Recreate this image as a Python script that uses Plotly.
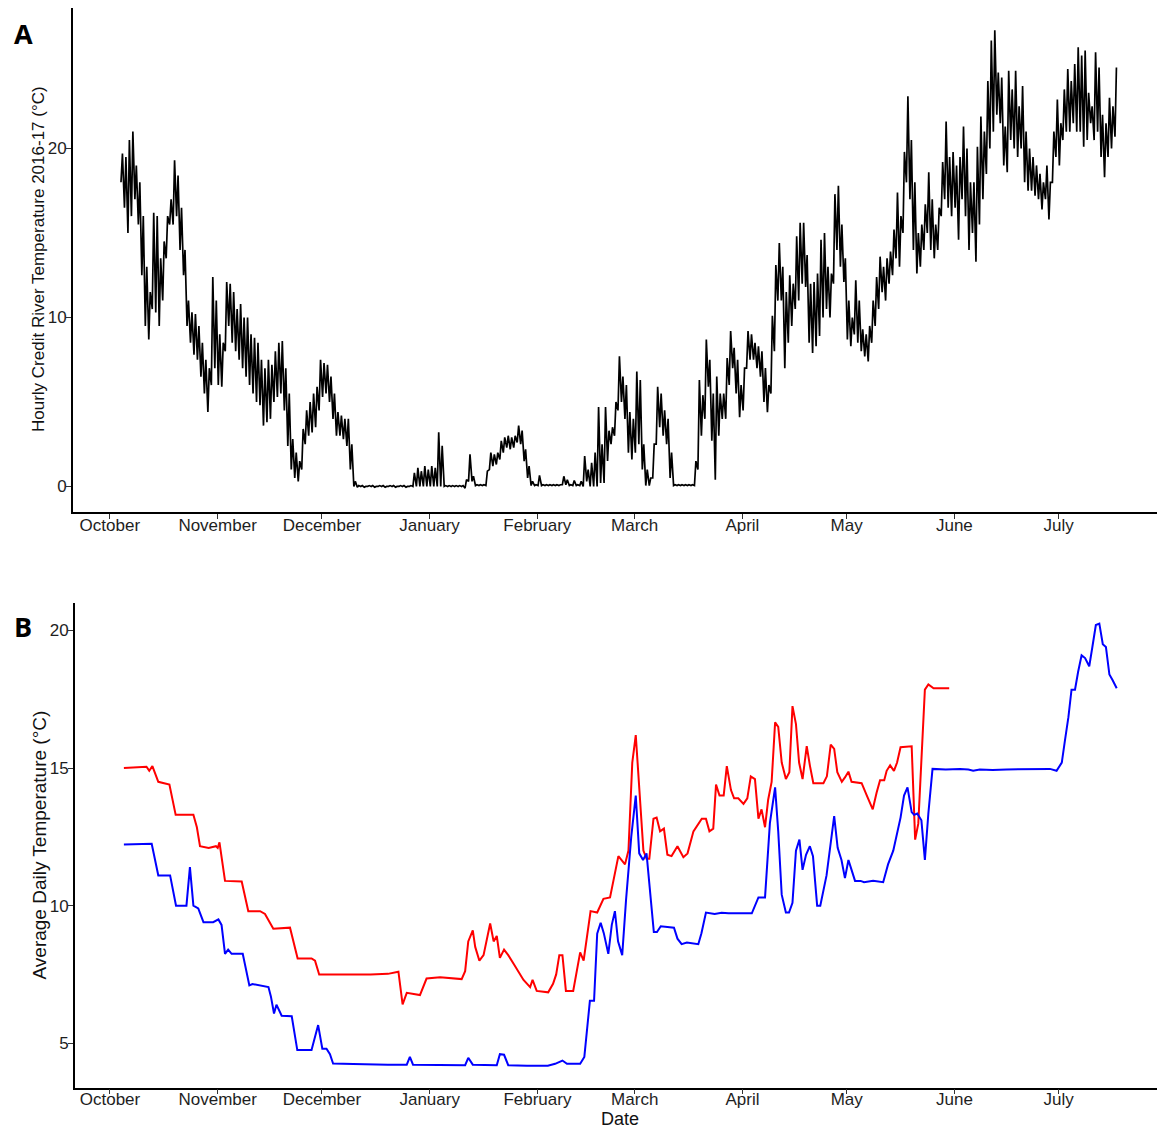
import pandas as pd
import plotly.graph_objects as go

# ---------------- data ----------------
BASE = pd.Timestamp("2016-10-01")          # day offsets below are counted from here
HOURLY_START = pd.Timestamp("2016-10-04")  # first day of the hourly record (panel A)

# Panel A: daily minimum / maximum of the hourly Credit River record (deg C), one entry per day
daily_low = [
    # October 4-31
    18.0, 16.5, 15.0, 16.0, 17.0, 15.5, 12.5, 9.5, 8.7, 10.5, 10.3, 9.5, 11.0, 13.5,
    15.5, 15.5, 16.0, 14.0, 12.5, 9.5, 8.5, 7.8, 7.5, 6.5, 5.5, 4.4, 6.0, 7.0,
    # November
    6.0, 5.9, 8.0, 9.5, 8.5, 8.0, 7.5, 7.0, 6.5, 6.0, 5.5, 5.0, 4.8, 3.6, 3.8,
    4.0, 5.0, 5.3, 5.5, 4.5, 2.4, 1.0, 0.5, 0.3, 1.0, 2.5, 3.0, 3.2, 3.5, 4.5,
    # December
    5.3, 5.5, 5.0, 4.0, 3.0, 3.0, 2.8, 2.4, 1.0, 0.0, -0.05, 0.0, -0.05, 0.0, 0.0, -0.05,
    0.0, 0.0, -0.05, 0.0, 0.0, -0.05, 0.0, 0.0, -0.05, 0.0, 0.0, 0.0, 0.0, 0.0, 0.0,
    # January
    0.0, 0.0, 0.0, 0.0, 0.0, 0.0, 0.0, 0.0, 0.0, 0.0, -0.1, 0.3, 0.3, 0.05, 0.05, 0.05,
    0.05, 1.0, 1.2, 1.3, 1.6, 2.0, 2.3, 2.2, 2.3, 2.6, 2.5, 1.5, 0.5, 0.05, 0.05,
    # February
    0.05, 0.05, 0.05, 0.05, 0.05, 0.05, 0.05, 0.1, 0.1, 0.05, 0.05, 0.05, 0.05, 0.0,
    0.3, 0.0, 0.0, 0.0, 0.2, 0.2, 1.5, 2.5, 3.0, 4.5, 5.0, 4.0, 2.0, 1.6,
    # March
    2.0, 2.5, 1.0, 0.05, 0.05, 0.5, 2.5, 3.5, 3.0, 2.5, 0.5, 0.05, 0.05, 0.05, 0.05, 0.05,
    0.05, 0.05, 1.0, 3.0, 4.0, 5.9, 2.7, 0.4, 3.0, 4.0, 4.0, 6.0, 7.0, 5.5, 4.1,
    # April
    4.5, 7.0, 7.5, 7.5, 7.0, 6.5, 5.0, 4.4, 5.5, 8.0, 11.0, 11.0, 7.0, 8.5, 9.5,
    10.5, 11.0, 12.0, 11.8, 8.5, 7.9, 8.3, 8.9, 10.0, 10.5, 10.0, 12.0, 14.0, 13.0, 12.1,
    # May
    8.7, 8.3, 9.0, 8.5, 8.0, 7.7, 7.4, 8.5, 9.5, 10.5, 11.5, 11.0, 12.0, 12.5, 13.5, 13.0,
    15.0, 18.0, 17.0, 14.0, 12.6, 13.0, 14.0, 15.0, 14.0, 13.5, 14.0, 16.0, 17.0, 16.5, 16.0,
    # June
    16.5, 14.6, 17.0, 16.0, 14.0, 15.0, 13.3, 15.5, 17.0, 18.5, 20.0, 21.0, 22.0, 21.5, 19.0,
    18.6, 20.5, 20.0, 19.5, 20.0, 18.0, 17.5, 17.5, 17.2, 17.0, 16.4, 17.0, 15.8, 18.0, 19.5,
    # July 1-17
    19.0, 20.5, 21.0, 21.0, 21.5, 21.0, 21.0, 20.1, 20.5, 21.5, 20.5, 21.0, 19.5, 18.3,
    19.5, 20.0, 20.7,
]
daily_high = [
    # October 4-31
    19.7, 19.5, 20.5, 21.0, 19.0, 18.0, 16.0, 13.0, 11.5, 16.2, 16.0, 13.5, 14.5, 16.0,
    17.0, 19.3, 18.4, 16.5, 14.0, 11.0, 10.3, 10.2, 9.5, 8.5, 7.5, 7.0, 12.4, 11.0,
    # November
    9.0, 8.5, 12.1, 12.0, 11.5, 10.5, 10.8, 10.0, 10.0, 9.0, 8.8, 8.5, 7.5, 7.0, 7.5,
    7.2, 8.0, 8.5, 8.6, 7.0, 5.5, 2.8, 2.0, 1.5, 3.4, 4.5, 5.0, 5.5, 5.9, 7.5,
    # December
    7.3, 7.2, 6.5, 5.5, 4.4, 4.2, 4.0, 4.0, 2.5, 0.3, 0.05, 0.05, 0.0, 0.05, 0.05, 0.0,
    0.05, 0.05, 0.0, 0.05, 0.05, 0.0, 0.05, 0.05, 0.0, 0.05, 0.8, 1.1, 0.9, 1.2, 1.0,
    # January
    1.2, 1.1, 3.2, 2.4, 0.05, 0.05, 0.05, 0.05, 0.05, 0.05, 0.4, 1.9, 0.6, 0.1, 0.1, 0.1,
    0.9, 2.0, 1.9, 2.0, 2.7, 2.9, 3.0, 2.9, 3.0, 3.6, 3.3, 2.2, 1.2, 0.3, 0.1,
    # February
    0.65, 0.1, 0.1, 0.1, 0.1, 0.1, 0.1, 0.6, 0.4, 0.1, 0.35, 0.1, 0.3, 1.8,
    1.0, 1.4, 2.0, 4.7, 2.5, 4.7, 3.3, 3.5, 5.0, 7.7, 6.5, 6.0, 4.4, 4.0,
    # March
    6.8, 6.3, 2.5, 1.0, 0.5, 2.5, 5.9, 5.5, 4.5, 4.0, 2.0, 0.1, 0.1, 0.1, 0.1, 0.1,
    0.1, 1.5, 6.3, 5.4, 8.7, 7.5, 5.5, 6.5, 5.5, 5.5, 7.6, 9.2, 8.2, 7.5, 6.0,
    # April
    7.0, 9.2, 9.0, 8.5, 8.3, 8.0, 7.0, 6.0, 10.1, 13.1, 14.4, 13.0, 11.5, 12.5, 12.0,
    14.8, 15.6, 15.6, 13.7, 12.0, 12.1, 12.6, 14.6, 15.0, 13.0, 12.6, 17.3, 17.8, 15.5, 13.5,
    # May
    11.0, 10.0, 12.2, 11.0, 9.3, 9.0, 9.5, 11.0, 12.4, 13.6, 13.0, 13.5, 13.9, 15.2, 17.4, 16.0,
    19.8, 23.1, 20.5, 18.0, 15.0, 15.5, 16.7, 18.6, 17.0, 15.5, 16.5, 19.2, 21.6, 19.5, 19.8,
    # June
    19.0, 19.5, 21.3, 20.0, 18.0, 18.0, 20.1, 21.9, 21.0, 24.0, 26.4, 27.0, 24.5, 24.2, 21.3,
    24.6, 23.5, 24.6, 22.5, 23.7, 21.0, 20.0, 19.5, 19.0, 18.5, 18.0, 19.0, 18.0, 21.0, 22.9,
    # July 1-17
    21.5, 23.5, 24.7, 24.0, 25.0, 26.0, 25.5, 25.8, 23.3, 22.5, 25.7, 24.8, 22.0, 21.5,
    23.0, 22.5, 24.8,
]
LOW_HOUR, HIGH_HOUR = 5, 15   # typical hours of the daily minimum and maximum

# Panel B: average daily temperature, read at the turning points (day offset from Oct 1, deg C)
red_day = [4, 7, 10.5, 11.3, 12.2, 13.9, 17.1, 18.9, 24, 25, 25.9, 28.4, 30.5, 31, 31.5, 33.1,
           37.9, 39.8, 43.2, 44.6, 47, 51.8, 54, 58, 59, 60.2, 65, 70, 75, 80, 83, 84.2, 85.4,
           89.2, 91.1, 95, 98, 101.2, 102.2, 103.1, 104.4, 105.1, 106.3, 107.5, 109.4, 110.4,
           111.3, 112.2, 113.4, 114.6, 116.1, 119, 120.9, 121.6, 122.8, 126.1, 127.5, 128.4,
           129.3, 130.2, 131.2, 133.3, 135.3, 136.3, 138.3, 140.2, 142, 143.9, 146.3, 148.2,
           149.2, 150.3, 151.3, 152.4, 153.5, 154.4, 155.2, 156.4, 157.3, 158.3, 159.4, 160.4,
           161.6, 163.3, 165, 166.2, 167.9, 170.3, 171.5, 172.5, 173.6, 174.4, 175.4, 176.6,
           177.5, 178.7, 179.6, 180.8, 182.3, 183.4, 184.4, 185.6, 186.6, 187.5, 188.5, 189.4,
           190.4, 191.4, 192.3, 193.3, 194.5, 195.5, 196.4, 197.4, 198.3, 199.3, 200.5, 201.4,
           202.4, 205.3, 206.3, 207.4, 208.4, 209.3, 210.6, 211.5, 212.5, 213.4, 216.3, 217.8,
           219.5, 220.6, 221.6, 222.8, 223.5, 224.5, 225.6, 226.5, 227.5, 230.7, 231.2, 231.7,
           232.6, 233.6, 234.5, 235.5, 237, 241.5]
red_temp = [15.0, 15.03, 15.05, 14.9, 15.07, 14.5, 14.4, 13.3, 13.3, 12.85, 12.16, 12.1, 12.16,
            12.1, 12.3, 10.9, 10.875, 9.8, 9.8, 9.7, 9.16, 9.2, 8.08, 8.08, 8.0, 7.5, 7.5, 7.48,
            7.5, 7.52, 7.6, 6.41, 6.83, 6.75, 7.35, 7.4, 7.37, 7.33, 7.62, 8.7, 9.1, 8.5, 8.0,
            8.2, 9.35, 8.7, 8.9, 8.1, 8.4, 8.2, 7.9, 7.3, 7.04, 7.3, 6.9, 6.85, 7.16, 7.5, 8.2,
            8.2, 6.9, 6.9, 8.3, 8.0, 9.8, 9.75, 10.25, 10.3, 11.8, 11.5, 12.0, 15.2, 16.2, 14.0,
            12.0, 11.7, 11.7, 13.16, 13.2, 12.7, 12.8, 11.85, 11.8, 12.16, 11.76, 11.9, 12.7,
            13.16, 13.16, 12.7, 12.8, 14.4, 14.0, 14.0, 15.07, 14.2, 13.9, 13.9, 13.7, 13.9,
            14.7, 14.6, 13.16, 13.5, 12.85, 13.85, 14.5, 16.66, 16.5, 15.2, 14.6, 14.85, 17.25,
            16.6, 15.2, 14.6, 15.8, 15.1, 14.45, 14.45, 14.7, 15.85, 15.7, 14.85, 14.5, 14.66,
            14.87, 14.5, 14.45, 14.0, 13.5, 14.1, 14.56, 14.56, 14.9, 15.1, 14.9, 15.2, 15.76,
            15.79, 14.1, 12.4, 12.98, 15.85, 17.85, 18.04, 17.9, 17.9]

blue_day = [4, 12, 13.9, 17.3, 19, 22, 23, 24, 25.4, 26.9, 29.7, 31.2, 32.1, 33.1, 34, 35, 38.2,
            40.1, 41, 45.6, 46.3, 47.2, 47.9, 49.4, 52.3, 53.9, 58, 59.9, 61.1, 62.3, 63.3, 64.2,
            70, 75, 80, 85.4, 86.3, 87.2, 95, 102.2, 103.1, 104.4, 111.3, 112.2, 113.4, 114.6,
            120, 126, 128.1, 130.2, 131.5, 135.3, 136.5, 138.1, 139.3, 140.2, 141.2, 142.1,
            143.4, 144.4, 145.3, 146.2, 147.4, 148.5, 150, 151.3, 152.3, 153.4, 154.4, 155.3,
            156.5, 157.4, 158.5, 162.3, 163.3, 164.5, 166, 169.3, 170.2, 171.5, 174, 176, 178,
            184.7, 185.6, 186.6, 188.5, 189.9, 191.4, 192.3, 193.3, 194.5, 195.4, 196.4, 197.4,
            198.4, 199.3, 200.3, 201.4, 202.3, 203.5, 204.4, 206.2, 207.3, 208.4, 209.4, 210.5,
            211.5, 212.5, 213.4, 214.4, 216, 217, 219.6, 222.5, 223.9, 225.4, 227.5, 228.5,
            229.5, 230.7, 231.4, 232.3, 233.5, 234.5, 235.5, 236.7, 240.5, 244.6, 247, 248.4,
            250.3, 254, 258, 261.9, 264, 270.5, 272.4, 273.9, 274.8, 275.8, 276.7, 277.7, 278.6,
            279.6, 280.6, 281.8, 282.7, 283.7, 284.7, 285.7, 286.6, 287.6, 288.5, 289.7]
blue_temp = [12.22, 12.25, 11.1, 11.1, 10.0, 10.0, 11.4, 10.0, 9.9, 9.4, 9.4, 9.5, 9.3, 8.25,
             8.4, 8.25, 8.25, 7.1, 7.15, 7.04, 6.7, 6.08, 6.4, 6.0, 5.98, 4.75, 4.75, 5.66, 4.8,
             4.8, 4.6, 4.26, 4.24, 4.22, 4.22, 4.22, 4.5, 4.22, 4.2, 4.2, 4.47, 4.22, 4.2, 4.6,
             4.58, 4.2, 4.18, 4.18, 4.25, 4.37, 4.25, 4.25, 4.5, 6.54, 6.54, 8.98, 9.38, 9.0,
             8.25, 9.3, 9.8, 8.7, 8.2, 10.2, 12.5, 14.0, 11.9, 11.66, 11.9, 10.7, 9.04, 9.04,
             9.25, 9.2, 8.8, 8.6, 8.66, 8.6, 9.0, 9.75, 9.7, 9.74, 9.72, 9.72, 10.0, 10.3, 10.3,
             13.0, 14.3, 12.7, 10.4, 9.75, 9.75, 10.1, 12.0, 12.4, 11.3, 11.85, 12.16, 11.8,
             10.0, 10.0, 11.1, 12.2, 13.25, 12.1, 11.66, 11.0, 11.66, 11.3, 10.9, 10.9, 10.85,
             10.9, 10.85, 11.5, 12.0, 13.2, 14.0, 14.3, 13.4, 13.3, 13.35, 13.1, 11.66, 13.35,
             14.97, 14.95, 14.97, 14.95, 14.9, 14.95, 14.93, 14.95, 14.95, 14.97, 14.97, 14.9,
             15.2, 16.0, 16.85, 17.85, 17.85, 18.5, 19.1, 19.0, 18.7, 19.4, 20.2, 20.25, 19.5,
             19.4, 18.4, 18.2, 17.9]

month_ticks = ["2016-10-01", "2016-11-01", "2016-12-01", "2017-01-01", "2017-02-01",
               "2017-03-01", "2017-04-01", "2017-05-01", "2017-06-01", "2017-07-01"]
month_labels = ["October", "November", "December", "January", "February",
                "March", "April", "May", "June", "July"]

# ---------------- build series ----------------
hourly_t, hourly_v = [], []
for i, (lo, hi) in enumerate(zip(daily_low, daily_high)):
    day = HOURLY_START + pd.Timedelta(days=i)
    hourly_t += [day + pd.Timedelta(hours=LOW_HOUR), day + pd.Timedelta(hours=HIGH_HOUR)]
    hourly_v += [lo, hi]

red_t = [BASE + pd.Timedelta(days=d) for d in red_day]
blue_t = [BASE + pd.Timedelta(days=d) for d in blue_day]

# The page body has an 8px margin, so the figure starts at (8, 8) in the window.
OFF = 8
W, H = 1165 - OFF, 1128 - OFF


def px(x):
    return (x - OFF) / W


def py(y):
    return 1 - (y - OFF) / H


FONT = "Liberation Sans, Arial, sans-serif"
TICKCOL = "#1e1e1e"

fig = go.Figure()
fig.add_trace(go.Scatter(x=hourly_t, y=hourly_v, mode="lines",
                         line=dict(color="black", width=1.7), xaxis="x", yaxis="y",
                         showlegend=False))
fig.add_trace(go.Scatter(x=red_t, y=red_temp, mode="lines",
                         line=dict(color="#FF0000", width=2), xaxis="x2", yaxis="y2",
                         showlegend=False))
fig.add_trace(go.Scatter(x=blue_t, y=blue_temp, mode="lines",
                         line=dict(color="#0000FF", width=2), xaxis="x2", yaxis="y2",
                         showlegend=False))


def xaxis(domain, left_days, anchor, standoff):
    return dict(domain=domain, anchor=anchor, type="date",
                range=[BASE + pd.Timedelta(days=left_days), BASE + pd.Timedelta(days=303.6)],
                tickvals=month_ticks, ticktext=month_labels,
                showgrid=False, zeroline=False, showline=True, linecolor="black", linewidth=1.8,
                ticks="outside", ticklen=5, tickwidth=1, tickcolor="#333333",
                ticklabelstandoff=standoff,
                tickfont=dict(family=FONT, size=17, color=TICKCOL))


def yaxis(domain, rng, tickvals, anchor):
    return dict(domain=domain, anchor=anchor, range=rng, tickvals=tickvals,
                showgrid=False, zeroline=False, showline=True, linecolor="black", linewidth=1.8,
                ticks="outside", ticklen=5, tickwidth=1, tickcolor="#333333",
                ticklabelstandoff=-4,
                tickfont=dict(family=FONT, size=17, color=TICKCOL))


fig.update_layout(
    width=W, height=H, margin=dict(l=0, r=0, t=0, b=0),
    paper_bgcolor="white", plot_bgcolor="white",
    xaxis=xaxis([px(73), 1], -10.6, "y", -8),
    yaxis=yaxis([py(511.6), py(8.3)], [-1.49, 28.3], [0, 10, 20], "x"),
    xaxis2=xaxis([px(75), 1], -10.07, "y2", -10),
    yaxis2=yaxis([py(1087.5), py(603)], [3.39, 21.0], [5, 10, 15, 20], "x2"),
)

annots = [
    dict(text="Hourly Credit River Temperature 2016-17 (°C)", x=px(38.5), y=py(259.5),
         textangle=-90, font=dict(family=FONT, size=17, color="#111")),
    dict(text="Average Daily Temperature (°C)", x=px(38.5), y=py(845),
         textangle=-90, font=dict(family=FONT, size=19, color="#111")),
    dict(text="Date", x=px(620), y=py(1119), font=dict(family=FONT, size=18, color="#111")),
    dict(text="<b>A</b>", x=px(23), y=py(33),
         font=dict(family="Open Sans, DejaVu Sans", size=27, color="black")),
    dict(text="<b>B</b>", x=px(23), y=py(626),
         font=dict(family="Open Sans, DejaVu Sans", size=27, color="black")),
]
for a in annots:
    fig.add_annotation(xref="paper", yref="paper", showarrow=False,
                       xanchor="center", yanchor="middle", **a)

fig.write_html("out.html")
